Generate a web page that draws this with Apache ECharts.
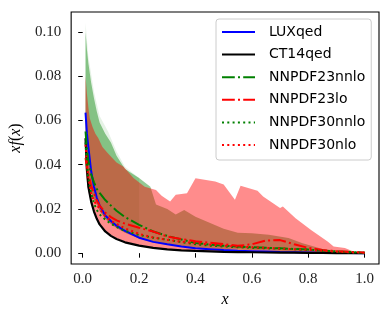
<!DOCTYPE html>
<html>
<head>
<meta charset="utf-8">
<script src="https://cdn.jsdelivr.net/npm/echarts@6/dist/echarts.min.js"></script>
<style>html,body{margin:0;padding:0;background:#fff;}#c{width:390px;height:313px;}</style>
</head>
<body>
<div id="c"></div>
<script>
// ---- data ----
var xs = [0.01,0.015,0.02,0.03,0.04,0.05,0.06,0.08,0.1,0.12,0.15,0.2,0.25,0.3,0.35,0.4,0.45,0.5,0.55,0.6,0.65,0.7,0.75,0.8,0.85,0.9,0.95,1.0];
var luxqed      = [0.0635,0.054,0.048,0.037,0.030,0.0250,0.0215,0.0170,0.0145,0.0124,0.0101,0.0070,0.0051,0.0040,0.0030,0.0022,0.0018,0.0014,0.0011,0.0009,0.0007,0.0005,0.0004,0.0003,0.0002,0.0001,0.00005,0.0];
var ct14qed     = [0.052,0.038,0.030,0.0233,0.0188,0.0155,0.0130,0.0098,0.0078,0.0064,0.0049,0.0034,0.0024,0.0017,0.0013,0.0010,0.0008,0.0006,0.0005,0.0004,0.0003,0.00025,0.0002,0.00015,0.0001,0.00005,0.00002,0.0];
var nnpdf23nnlo = [0.055,0.047,0.042,0.0356,0.032,0.029,0.0272,0.0240,0.0215,0.0192,0.0163,0.0128,0.0098,0.0078,0.0062,0.0046,0.0039,0.0034,0.0030,0.0027,0.0024,0.0022,0.0019,0.0016,0.0012,0.0008,0.0005,0.0002];
var nnpdf23lo   = [0.043,0.039,0.036,0.0305,0.027,0.0238,0.0215,0.0183,0.0163,0.0148,0.0133,0.0115,0.0098,0.0075,0.0064,0.0054,0.0047,0.0041,0.0033,0.0040,0.0057,0.0059,0.0040,0.0024,0.0014,0.0009,0.0006,0.0003];
var nnpdf30nnlo = [0.050,0.040,0.034,0.027,0.0225,0.0195,0.0175,0.0152,0.0133,0.0118,0.0101,0.0082,0.0070,0.0061,0.0050,0.0040,0.0034,0.0030,0.0027,0.0024,0.0022,0.0020,0.0018,0.0015,0.0011,0.0007,0.0004,0.0002];
var nnpdf30nlo  = [0.049,0.040,0.034,0.027,0.0235,0.0218,0.0200,0.0167,0.0146,0.0132,0.0112,0.0087,0.0071,0.0060,0.0052,0.0045,0.0039,0.0034,0.0030,0.0027,0.0024,0.0021,0.0018,0.0015,0.0011,0.0007,0.0004,0.0002];

// uncertainty bands
var greenHighX = [0.01,0.015,0.02,0.03,0.04,0.05,0.06,0.08,0.1,0.12,0.15,0.2,0.24,0.26,0.3,0.33,0.36,0.4,0.45,0.5,0.55,0.6,0.66,0.73,0.78,0.86,0.93,1.0];
var greenHigh  = [0.100,0.092,0.086,0.077,0.070,0.064,0.059,0.054,0.050,0.044,0.038,0.034,0.030,0.022,0.020,0.0175,0.0195,0.0165,0.0138,0.011,0.0092,0.0090,0.0083,0.0068,0.0045,0.0015,0.0005,0.0001];
var greenOuterHighX = [0.01,0.02,0.04,0.06,0.09,0.12,0.15,0.2];
var greenOuterHigh  = [0.104,0.089,0.073,0.062,0.055,0.046,0.039,0.034];
var greenOuterLowX  = [0.01,0.02,0.04,0.06,0.09,0.12,0.15,0.2];
var greenOuterLow   = [0.042,0.032,0.024,0.019,0.014,0.0114,0.0092,0.0066];
var greenLowX = [0.01,0.015,0.02,0.03,0.04,0.05,0.06,0.08,0.1,0.12,0.15,0.2,0.25,0.3,0.4,0.5,0.6,0.7,0.8,0.9,1.0];
var greenLow  = [0.042,0.036,0.032,0.027,0.024,0.022,0.019,0.0155,0.0132,0.0114,0.0092,0.0066,0.0049,0.0038,0.0025,0.0018,0.0014,0.0011,0.0007,0.0004,0.0001];
var redHighX = [0.01,0.015,0.02,0.025,0.035,0.045,0.055,0.07,0.09,0.12,0.145,0.18,0.22,0.26,0.28,0.31,0.33,0.37,0.40,0.47,0.5,0.54,0.56,0.62,0.64,0.70,0.71,0.755,0.81,0.87,0.89,0.93,0.96,1.0];
var redHigh  = [0.080,0.072,0.066,0.061,0.057,0.054,0.052,0.048,0.045,0.041,0.039,0.034,0.030,0.0285,0.026,0.0234,0.0264,0.0271,0.0339,0.0324,0.031,0.0241,0.0305,0.0282,0.0256,0.0204,0.0211,0.0158,0.0105,0.0052,0.003,0.0023,0.0007,0.0001];
var redLowX = [0.01,0.015,0.02,0.03,0.04,0.05,0.06,0.08,0.1,0.12,0.15,0.2,0.25,0.3,0.4,0.5,0.6,0.7,0.8,0.9,1.0];
var redLow  = [0.038,0.032,0.028,0.0225,0.0185,0.0158,0.0135,0.0103,0.0082,0.0068,0.0052,0.0036,0.0026,0.0018,0.0011,0.0007,0.0005,0.0003,0.00015,0.00005,0.0];

var xTicks = [0.0,0.2,0.4,0.6,0.8,1.0];
var xTickLabels = ['0.0','0.2','0.4','0.6','0.8','1.0'];
var yTicks = [0.00,0.02,0.04,0.06,0.08,0.10];
var yTickLabels = ['0.00','0.02','0.04','0.06','0.08','0.10'];

// ---- build ----
function pairs(x, y){ var r=[]; for(var i=0;i<x.length;i++) r.push([x[i], y[i]]); return r; }
function labelFor(ticks, labels){
  return function(v){ var best=0; for(var i=1;i<ticks.length;i++){ if(Math.abs(ticks[i]-v)<Math.abs(ticks[best]-v)) best=i; } return labels[best]; };
}
function band(name, hx, hy, lx, ly, fill, z){
  return {
    type:'custom', name:name, silent:true, clip:true, z:z,
    coordinateSystem:'cartesian2d',
    data:[[hx[0], hy[0]]],
    encode:{x:0, y:1},
    renderItem:function(params, api){
      var pts=[], i;
      for(i=0;i<hx.length;i++) pts.push(api.coord([hx[i], hy[i]]));
      for(i=lx.length-1;i>=0;i--) pts.push(api.coord([lx[i], ly[i]]));
      return {type:'polygon', shape:{points:pts}, style:{fill:fill, stroke:null}};
    }
  };
}
function line(name, y, color, type, w){
  return {
    type:'line', name:name, data:pairs(xs, y), showSymbol:false, symbol:'none',
    lineStyle:{color:color, width:w, type:type, cap:'butt'}, itemStyle:{color:color},
    z:5, silent:true
  };
}
var serif = 'Liberation Serif';
var dashdot = [12.8,3.2,2,3.2];
var dotted = [2,3.3];

var chart = echarts.init(document.getElementById('c'), null, {renderer:'canvas'});
chart.setOption({
  animation:false,
  backgroundColor:'#ffffff',
  grid:{left:64, top:12, right:11, bottom:49, show:true, borderColor:'#000', borderWidth:1.1, backgroundColor:'transparent'},
  xAxis:{
    type:'value', min:-0.041, max:1.051,
    name:'x', nameLocation:'middle', nameGap:25,
    nameTextStyle:{fontFamily:serif, fontStyle:'italic', fontSize:16, color:'#000'},
    axisLine:{show:false}, splitLine:{show:false},
    axisTick:{show:true, inside:false, length:4.5, lineStyle:{color:'#000', width:1}, customValues:xTicks},
    axisLabel:{customValues:xTicks, formatter:labelFor(xTicks, xTickLabels), fontFamily:serif, fontSize:15, color:'#222', margin:8}
  },
  yAxis:{
    type:'value', min:-0.0049, max:0.1090,
    name:'{it|xf}{n|(}{it|x}{n|)}', nameLocation:'middle', nameGap:45, nameRotate:90,
    nameTextStyle:{fontFamily:serif, fontSize:16, color:'#000', rich:{it:{fontFamily:serif, fontStyle:'italic', fontSize:16, color:'#000'}, n:{fontFamily:serif, fontSize:16, color:'#000'}}},
    axisLine:{show:false}, splitLine:{show:false},
    axisTick:{show:true, inside:false, length:4.5, lineStyle:{color:'#000', width:1}, customValues:yTicks},
    axisLabel:{customValues:yTicks, formatter:labelFor(yTicks, yTickLabels), fontFamily:serif, fontSize:15, color:'#222', margin:10}
  },
  legend:{
    data:['LUXqed','CT14qed','NNPDF23nnlo','NNPDF23lo','NNPDF30nnlo','NNPDF30nlo'],
    orient:'vertical', left:216, top:19,
    padding:[6,6,8,5], itemWidth:33, itemHeight:14, itemGap:8.6,
    backgroundColor:'rgba(255,255,255,0.85)', borderColor:'#cccccc', borderWidth:1, borderRadius:3,
    itemStyle:{opacity:0, borderWidth:0},
    textStyle:{fontFamily:'DejaVu Sans', fontSize:14, color:'#000', padding:[0,0,0,9]},
    selectedMode:false
  },
  series:[
    band('NNPDF23nnlo band', greenHighX, greenHigh, greenLowX, greenLow, 'rgba(0,128,0,0.42)', 1),
    band('NNPDF30nnlo band', greenOuterHighX, greenOuterHigh, greenOuterLowX, greenOuterLow, 'rgba(0,128,0,0.10)', 1),
    band('NNPDF23lo band', redHighX, redHigh, redLowX, redLow, 'rgba(255,0,0,0.45)', 2),
    line('LUXqed', luxqed, '#0000ff', 'solid', 2),
    line('CT14qed', ct14qed, '#000000', 'solid', 2.2),
    line('NNPDF23nnlo', nnpdf23nnlo, '#008000', dashdot, 2),
    line('NNPDF23lo', nnpdf23lo, '#ff0000', dashdot, 2),
    line('NNPDF30nnlo', nnpdf30nnlo, '#008000', dotted, 2),
    line('NNPDF30nlo', nnpdf30nlo, '#ff0000', dotted, 2)
  ]
});
</script>
</body>
</html>
